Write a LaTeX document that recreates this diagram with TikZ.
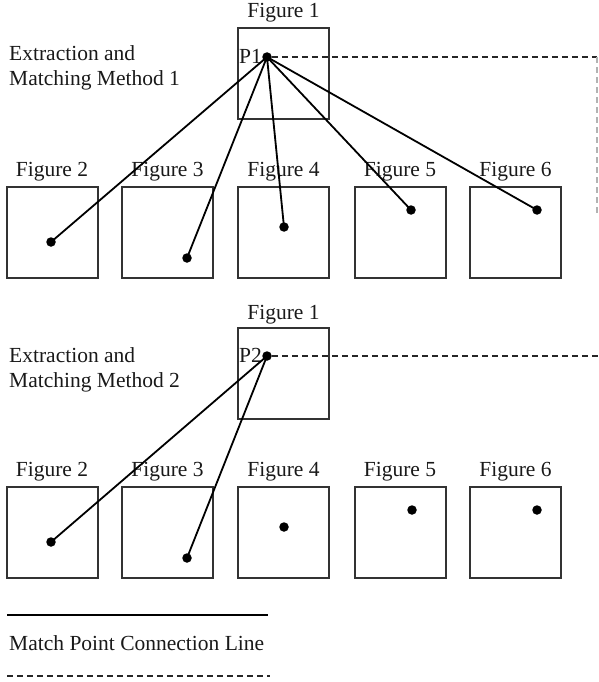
\documentclass[tikz,border=0pt]{standalone}
\usepackage{fontspec}
\setmainfont{Liberation Serif}
\begin{document}
\begin{tikzpicture}[x=1pt,y=-1pt,
  fig/.style={draw=black!80, line width=2pt, minimum width=91pt, minimum height=91pt, inner sep=0pt},
  lbl/.style={font=\fontsize{21.5}{25}\selectfont, text=black!90, inner sep=0pt},
  pt/.style={circle, fill=black, inner sep=0pt, minimum size=9.5pt},
  link/.style={line width=1.8pt, black},
  guide/.style={line width=1.5pt, dash pattern=on 6pt off 4pt, black!85}]
\useasboundingbox (0,0) rectangle (598,682);

% ---------- Method 1 ----------
\node[lbl, align=left, anchor=west] (m1) at (9,67.5) {Extraction and\\Matching Method 1};
\node[fig] (a1) at (283.5,74) {};
\node[lbl] (ta1) at (283.5,13) {Figure 1};
\foreach \i/\x in {2/52,3/167.5,4/283.5,5/400,6/515.5}{
  \node[fig] (a\i) at (\x,232) {};
  \node[lbl] (ta\i) at (\x,172) {Figure \i};
}
\node[pt] (p1) at (267,57) {};
\node[lbl, anchor=east] (lp1) at (262,56) {P1};
\node[pt] (d2) at (51,242) {};
\node[pt] (d3) at (187,258) {};
\node[pt] (d4) at (284,227) {};
\node[pt] (d5) at (411,210) {};
\node[pt] (d6) at (537,210) {};
\foreach \i in {2,...,6}{ \draw[link] (p1.center) -- (d\i.center); }
\coordinate (e1) at (597,57);
\coordinate (e1b) at (597,215);
\draw[guide] (p1) -- (e1);
\draw[guide, black!30] (e1) -- (e1b);

% ---------- Method 2 ----------
\node[lbl, align=left, anchor=west] (m2) at (9,369.5) {Extraction and\\Matching Method 2};
\node[fig] (b1) at (283.5,373.5) {};
\node[lbl] (tb1) at (283.5,315) {Figure 1};
\foreach \i/\x in {2/52,3/167.5,4/283.5,5/400,6/515.5}{
  \node[fig] (b\i) at (\x,532) {};
  \node[lbl] (tb\i) at (\x,472) {Figure \i};
}
\node[pt] (p2) at (267,356) {};
\node[lbl, anchor=east] (lp2) at (262,355) {P2};
\node[pt] (f2) at (51,542) {};
\node[pt] (f3) at (187,558) {};
\node[pt] (f4) at (284,527) {};
\node[pt] (f5) at (412,510) {};
\node[pt] (f6) at (537,510) {};
\draw[link] (p2.center) -- (f2.center);
\draw[link] (p2.center) -- (f3.center);
\coordinate (e2) at (598,356);
\draw[guide, line width=1.2pt] (p2) -- (e2);

% ---------- Legend ----------
\coordinate (la) at (7,615);
\coordinate (lb) at (268,615);
\draw[link] (la) -- (lb);
\node[lbl, anchor=west] (lt) at (9,643) {Match Point Connection Line};
\coordinate (lc) at (7,676);
\coordinate (ld) at (270,676);
\draw[guide] (lc) -- (ld);
\end{tikzpicture}
\end{document}
